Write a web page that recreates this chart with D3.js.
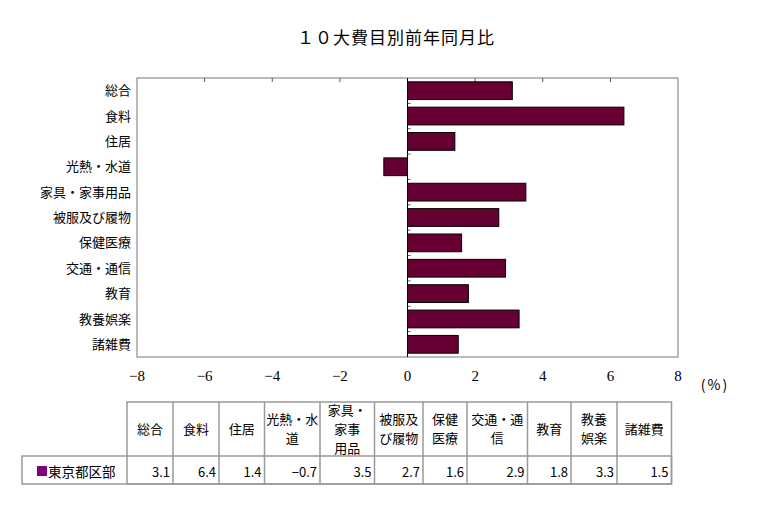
<!DOCTYPE html>
<html>
<head>
<meta charset="utf-8">
<script src="https://cdn.jsdelivr.net/npm/d3@7"></script>
<style>
  body { margin: 0; background: #fff; }
  text { font-family: "Noto Sans CJK JP", sans-serif; fill: #000; }
</style>
</head>
<body>
<div id="chart"></div>
<script>
// data
var categories = ["総合", "食料", "住居", "光熱・水道", "家具・家事用品", "被服及び履物",
  "保健医療", "交通・通信", "教育", "教養娯楽", "諸雑費"];
var values = [3.1, 6.4, 1.4, -0.7, 3.5, 2.7, 1.6, 2.9, 1.8, 3.3, 1.5];
var tableHeaders = ["総合", "食料", "住居", "光熱・水\n道", "家具・\n家事\n用品", "被服及\nび履物",
  "保健\n医療", "交通・通\n信", "教育", "教養\n娯楽", "諸雑費"];
var seriesName = "東京都区部";
var xTicks = [-8, -6, -4, -2, 0, 2, 4, 6, 8];

var width = 760;
var height = 515;
var margin = {top: 78, left: 137, right: 82, bottom: 158};

var svg = d3.select("#chart")
  .append("svg")
  .attr("width", width)
  .attr("height", height);

svg.append("text")
  .attr("x", 396)
  .attr("y", 44)
  .attr("text-anchor", "middle")
  .attr("font-size", "17px")
  .attr("letter-spacing", "1px")
  .text("１０大費目別前年同月比");

var x = d3.scaleLinear()
  .domain([-8, 8])
  .range([margin.left, width - margin.right]);

var y = d3.scaleBand()
  .domain(categories)
  .range([margin.top, height - margin.bottom])
  .paddingInner(0.3)
  .paddingOuter(0.15);

var plotTop = margin.top, plotBottom = height - margin.bottom;

// plot frame
svg.append("rect")
  .attr("x", x(-8))
  .attr("y", plotTop)
  .attr("width", x(8) - x(-8))
  .attr("height", plotBottom - plotTop)
  .attr("fill", "none")
  .attr("stroke", "#8c8c8c")
  .attr("stroke-width", 1.2);

// inner ticks on the top edge
svg.append("g")
  .selectAll("line")
  .data(xTicks.slice(1, -1))
  .join("line")
  .attr("x1", d => x(d)).attr("x2", d => x(d))
  .attr("y1", plotTop).attr("y2", plotTop + 4)
  .attr("stroke", "#555");

// bars
svg.append("g")
  .selectAll("rect")
  .data(values)
  .join("rect")
  .attr("x", d => x(Math.min(0, d)))
  .attr("y", (d, i) => y(categories[i]))
  .attr("width", d => Math.abs(x(d) - x(0)))
  .attr("height", y.bandwidth())
  .attr("fill", "#660033")
  .attr("stroke", "#000")
  .attr("stroke-width", 1);

// zero axis
svg.append("line")
  .attr("x1", x(0)).attr("x2", x(0))
  .attr("y1", plotTop).attr("y2", plotBottom)
  .attr("stroke", "#000");

var step = y.step();
svg.append("g")
  .selectAll("line")
  .data(categories.slice(1))
  .join("line")
  .attr("x1", x(0)).attr("x2", x(0) + 3)
  .attr("y1", d => y(d) - step * 0.15)
  .attr("y2", d => y(d) - step * 0.15)
  .attr("stroke", "#555");

// category labels
svg.append("g")
  .selectAll("text")
  .data(categories)
  .join("text")
  .attr("x", x(-8) - 6)
  .attr("y", d => y(d) + y.bandwidth() / 2)
  .attr("dy", "0.35em")
  .attr("text-anchor", "end")
  .attr("font-size", "13px")
  .text(d => d);

// x tick labels
svg.append("g")
  .selectAll("text")
  .data(xTicks)
  .join("text")
  .attr("x", d => x(d))
  .attr("y", plotBottom + 19)
  .attr("dy", "0.35em")
  .attr("text-anchor", "middle")
  .style("font-family", "'Liberation Serif', 'DejaVu Serif', serif")
  .attr("font-size", "15px")
  .text(d => d < 0 ? "−" + Math.abs(d) : d);

svg.append("text")
  .attr("x", 715)
  .attr("y", 385)
  .attr("dy", "0.35em")
  .attr("text-anchor", "middle")
  .attr("font-size", "14px")
  .attr("letter-spacing", "2px")
  .text("(%)");

// data table
var colEdges = [127, 173, 219, 264.5, 320, 374.5, 423, 467, 527.5, 571, 617, 671.5];
var tTop = 402, tMid = 456, tBot = 484, tLeft = 22;
var border = "#999";
var tbl = svg.append("g");

tbl.append("rect")
  .attr("x", colEdges[0]).attr("y", tTop)
  .attr("width", colEdges[colEdges.length - 1] - colEdges[0])
  .attr("height", tBot - tTop)
  .attr("fill", "none").attr("stroke", border).attr("stroke-width", 1.5);
tbl.append("rect")
  .attr("x", tLeft).attr("y", tMid)
  .attr("width", colEdges[colEdges.length - 1] - tLeft)
  .attr("height", tBot - tMid)
  .attr("fill", "none").attr("stroke", border).attr("stroke-width", 1.5);
tbl.selectAll("line.col")
  .data(colEdges.slice(1, -1))
  .join("line")
  .attr("class", "col")
  .attr("x1", d => d).attr("x2", d => d)
  .attr("y1", tTop).attr("y2", tBot)
  .attr("stroke", border).attr("stroke-width", 1.5);

tableHeaders.forEach(function(h, i) {
  var lines = h.split("\n");
  var cx = (colEdges[i] + colEdges[i + 1]) / 2;
  var lh = 19;
  var y0 = (tTop + tMid) / 2 - (lines.length - 1) * lh / 2;
  var t = tbl.append("text")
    .attr("text-anchor", "middle")
    .attr("font-size", "13px");
  lines.forEach(function(l, j) {
    t.append("tspan")
      .attr("x", cx)
      .attr("y", y0 + j * lh)
      .attr("dy", "0.35em")
      .text(l);
  });
});

tbl.selectAll("text.val")
  .data(values)
  .join("text")
  .attr("class", "val")
  .attr("x", (d, i) => colEdges[i + 1] - 3)
  .attr("y", (tMid + tBot) / 2 + 2)
  .attr("dy", "0.35em")
  .attr("text-anchor", "end")
  .attr("font-size", "13px")
  .text(d => d < 0 ? "−" + Math.abs(d).toFixed(1) : d.toFixed(1));

tbl.append("rect")
  .attr("x", 37).attr("y", (tMid + tBot) / 2 - 4)
  .attr("width", 10).attr("height", 10)
  .attr("fill", "#800080");
tbl.append("text")
  .attr("x", 48)
  .attr("y", (tMid + tBot) / 2 + 2)
  .attr("dy", "0.35em")
  .attr("font-size", "13.5px")
  .text(seriesName);
</script>
</body>
</html>
